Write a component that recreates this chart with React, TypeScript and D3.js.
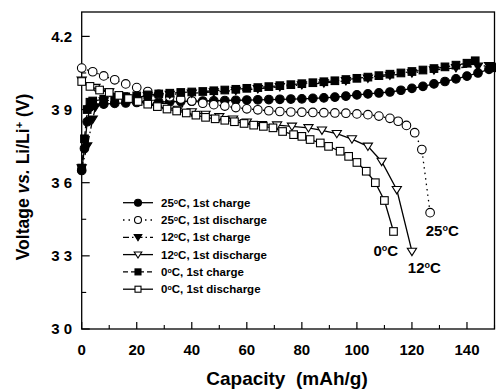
import React from "react";
import * as d3 from "d3";

// capacity (mAh/g), voltage (V)
const charge25: [number, number][] = [
  [0, 3.65], [1, 3.74], [2, 3.85], [3, 3.91], [4, 3.918], [8, 3.922], [12, 3.925],
  [16, 3.927], [20, 3.929], [24, 3.93], [28, 3.931], [32, 3.932], [36, 3.933],
  [40, 3.934], [44, 3.935], [48, 3.936], [52, 3.937], [56, 3.938], [60, 3.939],
  [64, 3.94], [68, 3.941], [72, 3.942], [76, 3.943], [80, 3.944], [84, 3.946],
  [88, 3.948], [92, 3.951], [96, 3.955], [100, 3.96], [104, 3.964], [108, 3.968],
  [112, 3.972], [116, 3.979], [120, 3.987], [124, 3.995], [128, 4.005], [132, 4.015],
  [136, 4.026], [140, 4.037], [144, 4.05], [148, 4.065], [150, 4.073],
];
const discharge25: [number, number][] = [
  [0, 4.07], [4, 4.055], [8, 4.038], [12, 4.022], [16, 4.005], [20, 3.99], [24, 3.974],
  [28, 3.962], [32, 3.952], [36, 3.943], [40, 3.935], [44, 3.926], [48, 3.92],
  [52, 3.914], [56, 3.908], [60, 3.903], [64, 3.899], [68, 3.895], [72, 3.892],
  [76, 3.89], [80, 3.889], [84, 3.888], [88, 3.887], [92, 3.886], [96, 3.885],
  [100, 3.882], [104, 3.879], [108, 3.873], [112, 3.864], [115, 3.852], [118, 3.835],
  [121, 3.805], [123.6, 3.736], [126.6, 3.477],
];
const charge12: [number, number][] = [
  [0, 3.66], [2, 3.75], [4, 3.86], [5, 3.91], [8, 3.935], [16, 3.947], [24, 3.955],
  [32, 3.962], [40, 3.967], [48, 3.972], [56, 3.978], [64, 3.985], [72, 3.993],
  [80, 4.001], [88, 4.009], [96, 4.018], [104, 4.028], [112, 4.04], [120, 4.05],
  [128, 4.062], [136, 4.071], [144, 4.077], [148, 4.08],
];
const discharge12: [number, number][] = [
  [0, 4.02], [5, 3.99], [10, 3.972], [15, 3.955], [20, 3.94], [25, 3.925], [30, 3.912],
  [35, 3.9], [40, 3.89], [45, 3.88], [50, 3.87], [55, 3.86], [60, 3.848], [65.5, 3.838],
  [71, 3.836], [76.4, 3.831], [82.4, 3.825], [87.3, 3.815], [92.7, 3.801], [98.2, 3.779],
  [104, 3.749], [109, 3.687], [114.5, 3.571], [120, 3.318],
];
const charge0: [number, number][] = [
  [0, 3.66], [1, 3.78], [2, 3.9], [3, 3.93], [4, 3.935], [8, 3.942], [12, 3.948],
  [16, 3.952], [20, 3.956], [24, 3.96], [28, 3.964], [32, 3.967], [36, 3.97],
  [40, 3.972], [44, 3.974], [48, 3.977], [52, 3.98], [56, 3.983], [60, 3.987],
  [64, 3.99], [68, 3.994], [72, 3.998], [76, 4.002], [80, 4.006], [84, 4.01],
  [88, 4.014], [92, 4.018], [96, 4.023], [100, 4.028], [104, 4.033], [108, 4.039],
  [112, 4.045], [116, 4.05], [120, 4.056], [124, 4.062], [128, 4.068], [132, 4.075],
  [136, 4.082], [140, 4.09], [143, 4.1],
];
const discharge0: [number, number][] = [
  [0, 4.015], [3, 3.995], [6.5, 3.98], [10, 3.97], [13.5, 3.958], [17, 3.945],
  [20.5, 3.933], [24, 3.922], [27.5, 3.912], [31, 3.902], [34.5, 3.894], [38, 3.886],
  [41.5, 3.877], [45, 3.868], [48.5, 3.862], [52, 3.856], [55.5, 3.85], [59, 3.843],
  [62.5, 3.836], [66, 3.831], [69.5, 3.825], [73, 3.81], [77, 3.797], [80, 3.79],
  [83, 3.777], [86.7, 3.763], [89.7, 3.749], [93.9, 3.729], [97, 3.708], [100, 3.683],
  [103.4, 3.647], [106.7, 3.6], [110, 3.527], [113.3, 3.4],
];

const xTicks = [0, 20, 40, 60, 80, 100, 120, 140];
const xMinor = [10, 30, 50, 70, 90, 110, 130, 150];
const yTicks = [3.0, 3.3, 3.6, 3.9, 4.2];
const yTickLabels = ["3 0", "3 3", "3 6", "3 9", "4.2"];
const yMinor = [3.15, 3.45, 3.75, 4.05];

const legendLabels = [
  "25°C, 1st charge",
  "25°C, 1st discharge",
  "12°C, 1st charge",
  "12°C, 1st discharge",
  "0°C, 1st charge",
  "0°C, 1st discharge",
];
const curveNotes = [
  { text: "0°C", at: [106, 3.3] },
  { text: "12°C", at: [118.5, 3.23] },
  { text: "25°C", at: [125, 3.38] },
];

type Series = {
  data: [number, number][];
  shape: "circle" | "square" | "tri";
  filled: boolean;
  dash: string;
  size: number;
};

const series: Series[] = [
  { data: charge25, shape: "circle", filled: true, dash: "", size: 4.3 },
  { data: discharge25, shape: "circle", filled: false, dash: "1.5 4", size: 4.3 },
  { data: charge12, shape: "tri", filled: true, dash: "6 3 1.5 3", size: 4.6 },
  { data: discharge12, shape: "tri", filled: false, dash: "", size: 4.6 },
  { data: charge0, shape: "square", filled: true, dash: "5 3", size: 3.8 },
  { data: discharge0, shape: "square", filled: false, dash: "", size: 3.8 },
];

function Marker({ s, x, y, r }: { s: Series; x: number; y: number; r: number }) {
  const fill = s.filled ? "#000" : "#fff";
  if (s.shape === "circle")
    return <circle cx={x} cy={y} r={r} fill={fill} stroke="#000" strokeWidth={1.1} />;
  if (s.shape === "square")
    return <rect x={x - r} y={y - r} width={2 * r} height={2 * r} fill={fill} stroke="#000" strokeWidth={1.1} />;
  return (
    <path
      d={`M${x - r},${y - r * 0.7}L${x + r},${y - r * 0.7}L${x},${y + r * 0.9}Z`}
      fill={fill}
      stroke="#000"
      strokeWidth={1.1}
    />
  );
}

export default function App() {
  const width = 496;
  const height = 392;
  const left = 81.7;
  const right = 494.5;
  const top = 12;
  const bottom = 329;

  const x = d3.scaleLinear().domain([0, 150]).range([left, right]);
  const y = d3.scaleLinear().domain([3.0, 4.3]).range([bottom, top]);
  const line = d3
    .line<[number, number]>()
    .x((d) => x(d[0]))
    .y((d) => y(d[1]));

  const font = "'Liberation Sans', Arial, sans-serif";

  return (
    <svg
      width={width}
      height={height}
      style={{ position: "absolute", left: 0, top: 0, background: "#fff" }}
      fontFamily={font}
    >
      {/* frame */}
      <rect x={left} y={top} width={right - left} height={bottom - top} fill="none" stroke="#000" strokeWidth={1.3} />

      {/* x ticks */}
      {xTicks.map((t) => (
        <g key={"x" + t}>
          <line x1={x(t)} x2={x(t)} y1={bottom} y2={bottom - 7} stroke="#000" strokeWidth={1.2} />
          <text x={x(t)} y={355} textAnchor="middle" fontSize={15} fontWeight="bold">
            {t}
          </text>
        </g>
      ))}
      {xMinor.map((t) => (
        <line key={"xm" + t} x1={x(t)} x2={x(t)} y1={bottom} y2={bottom - 4} stroke="#000" strokeWidth={1.1} />
      ))}

      {/* y ticks */}
      {yTicks.map((t, i) => (
        <g key={"y" + t}>
          <line x1={left} x2={left + 8} y1={y(t)} y2={y(t)} stroke="#000" strokeWidth={1.2} />
          <text x={72} y={y(t)} dy="0.36em" textAnchor="end" fontSize={15} fontWeight="bold" xmlSpace="preserve">
            {yTickLabels[i]}
          </text>
        </g>
      ))}
      {yMinor.map((t) => (
        <line key={"ym" + t} x1={left} x2={left + 4.5} y1={y(t)} y2={y(t)} stroke="#000" strokeWidth={1.1} />
      ))}

      {/* axis titles */}
      <text x={287} y={385} textAnchor="middle" fontSize={19} fontWeight="bold" xmlSpace="preserve">
        Capacity  (mAh/g)
      </text>
      <text
        transform={`translate(29,177) rotate(-90)`}
        textAnchor="middle"
        fontSize={17.5}
        fontWeight="bold"
      >
        Voltage <tspan fontStyle="italic">vs.</tspan> Li/Li
        <tspan baselineShift="super" fontSize={11}>+</tspan> (V)
      </text>

      {/* curves */}
      {series.map((s, i) => (
        <g key={"s" + i}>
          <path d={line(s.data) || ""} fill="none" stroke="#000" strokeWidth={1.3} strokeDasharray={s.dash} />
          {s.data.map((d, j) => (
            <Marker key={j} s={s} x={x(d[0])} y={y(d[1])} r={s.size} />
          ))}
        </g>
      ))}

      {/* curve labels */}
      {curveNotes.map((n) => (
        <text key={n.text} x={x(n.at[0])} y={y(n.at[1])} fontSize={15} fontWeight="bold">
          {n.text.replace("°C", "")}
          <tspan baselineShift="super" fontSize={9}>o</tspan>C
        </text>
      ))}

      {/* legend */}
      {legendLabels.map((lab, i) => {
        const ly = 202.7 + i * 17.3;
        const s = series[i];
        return (
          <g key={lab}>
            <line x1={123} x2={153} y1={ly} y2={ly} stroke="#000" strokeWidth={1.3} strokeDasharray={s.dash} />
            <Marker s={s} x={138} y={ly} r={s.size - 0.8} />
            <text x={161} y={ly} dy="0.36em" fontSize={11.5} fontWeight="bold">
              {lab.split("°")[0]}
              <tspan baselineShift="super" fontSize={7}>o</tspan>
              {"C" + lab.split("°C")[1]}
            </text>
          </g>
        );
      })}
    </svg>
  );
}
